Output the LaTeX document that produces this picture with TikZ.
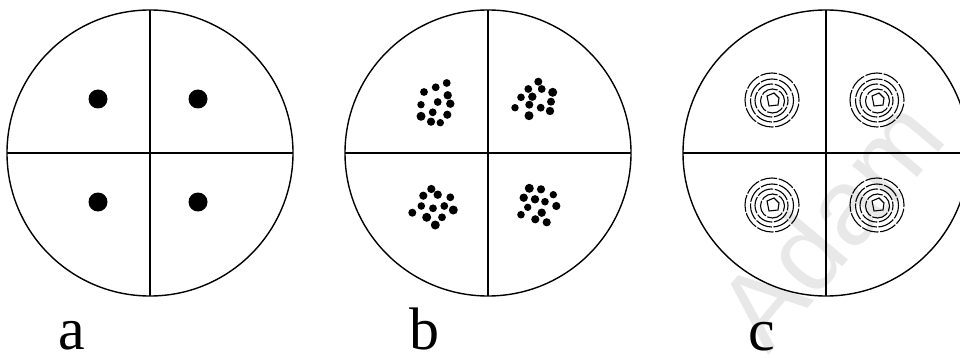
\documentclass[tikz,border=0pt]{standalone}
\usepackage{fontspec}
\setmainfont{Liberation Serif}
\newfontfamily\markfont{Liberation Sans}
\usetikzlibrary{positioning}
\tikzset{
  disc/.style={draw, line width=1.4pt},
  cross/.style={line width=1.6pt},
  spot/.style={fill=black},
  ring/.style={line width=1.1pt, dash pattern=on 17pt off 1.6pt},
  tag/.style={font=\fontsize{60}{60}\selectfont, inner sep=0pt, anchor=base},
  wmark/.style={font=\markfont\fontsize{108}{108}\selectfont, text=black!9,
    inner sep=0pt, anchor=base west, rotate=50}
}

\begin{document}
\begin{tikzpicture}[x=1pt, y=-1pt]
  \useasboundingbox (0,0) rectangle (960,358);
  \fill[white] (0,0) rectangle (960,358);
  \clip (0,0) rectangle (960,358);

  % watermark
  \node[wmark] (mark) at (768,356) {Adam};

  % panel a
  \draw[disc] (150,153) circle[radius=143pt];
  \draw[cross] (7,153) -- (293,153);
  \draw[cross] (150,10) -- (150,296);
  \foreach \x/\y in {98/99, 198/99, 98/202, 198/202}
    \fill[spot] (\x,\y) circle[radius=9.5pt];
  \node[tag] (lbla) at (72,349) {a};

  % panel b
  \draw[disc] (488,153) circle[radius=143pt];
  \draw[cross] (345,153) -- (631,153);
  \draw[cross] (488,10) -- (488,296);
  \foreach \x/\y/\r in {424/92/3.9, 435.7/87.3/3.9, 446.7/83/3.9, 447.7/95.3/4.2,
      421/104.7/3.7, 437.7/102/3.9, 450.3/103.7/4.2, 421/116.3/4.5,
      432.7/112.3/3.9, 447.3/114.7/4.1, 431/121.7/4.1, 440.3/122.7/3.7,
      538.3/81.7/4.0, 528.3/89/3.9, 541.7/89/3.9, 552.7/92.3/4.5,
      521/97.3/3.8, 532.3/96.7/4.2, 551/101.7/4.0, 515/107.7/3.7,
      529.3/104.7/4.0, 540.7/107.7/3.9, 550/111/4.2, 529/115.7/4.5,
      431.3/189/4.1, 423.3/195.7/4.1, 437.7/194.7/4.2, 450.3/197.3/3.9,
      421.3/206/3.8, 433/208.3/3.9, 444.3/206/3.9, 453.3/210/4.5,
      412.3/212.7/4.0, 426.7/217.3/4.5, 442/217.3/3.9, 435.3/225/4.5,
      529.3/188.3/4.5, 541/189.3/4.1, 553.3/194.7/3.7, 523.7/197.7/4.2,
      535/199.3/4.2, 545/201.7/3.8, 556.3/206/4.1, 527.7/207.3/3.7,
      541.7/212.7/4.2, 521/214.7/3.8, 535.3/219.3/4.1, 546.7/222.3/4.1}
    \fill[spot] (\x,\y) circle[radius=\r pt];
  \node[tag] (lblb) at (424,349) {b};

  % panel c
  \draw[disc] (826,153) circle[radius=143pt];
  \draw[cross] (683,153) -- (969,153);
  \draw[cross] (826,10) -- (826,296);
  \foreach \cx/\cy in {772/100, 877/100, 772/205, 877/205} {
    \draw[ring] (\cx,\cy) circle[radius=27pt];
    \draw[ring, dash phase=9pt] (\cx,\cy+0.5) circle[radius=21.5pt];
    \draw[ring, dash phase=13pt] (\cx-0.5,\cy+0.5) circle[radius=16.5pt];
    \draw[ring, dash phase=5pt] (\cx+0.5,\cy+1) circle[radius=12pt];
    \draw[line width=1.1pt] (\cx-5,\cy-4) -- ++(7,-3) -- ++(5,5)
      -- ++(-1,7) -- ++(-9,1) -- cycle;
  }
  \node[tag] (lblc) at (762,350) {c};
\end{tikzpicture}
\end{document}
